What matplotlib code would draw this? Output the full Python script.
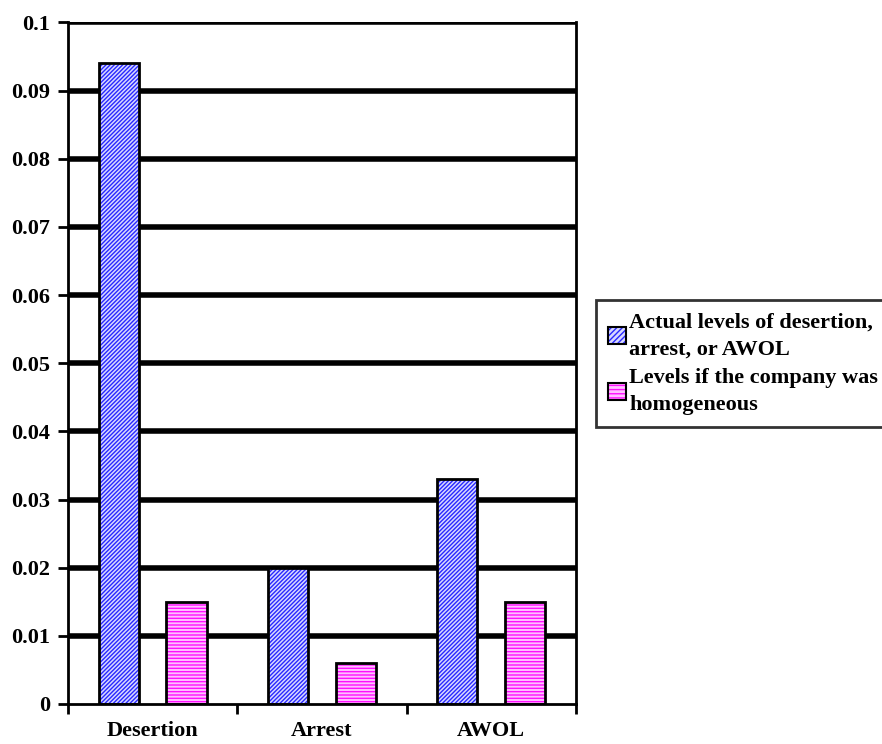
import numpy as np
import matplotlib
matplotlib.use("Agg")
import matplotlib.pyplot as plt
from matplotlib.patches import Patch
from matplotlib.legend_handler import HandlerTuple

categories = ["Desertion", "Arrest", "AWOL"]
actual = [0.094, 0.020, 0.033]
homogeneous = [0.015, 0.006, 0.015]
legend_labels = ["Actual levels of desertion,\narrest, or AWOL",
                 "Levels if the company was\nhomogeneous"]
yticks = [0, 0.01, 0.02, 0.03, 0.04, 0.05, 0.06, 0.07, 0.08, 0.09, 0.1]

plt.rcParams['font.family'] = ['Liberation Serif', 'DejaVu Serif']
plt.rcParams['font.weight'] = 'bold'
plt.rcParams['hatch.linewidth'] = 1.0

blue_face, blue_hatch = '#d8d8ff', '#2828ff'
pink_face, pink_hatch = '#ffc0ff', '#ff10ff'

fig = plt.figure(figsize=(8.82, 7.44), dpi=100)
ax = fig.add_axes([0.077, 0.0538, 0.576, 0.916])

x = np.arange(len(categories))
w = 0.237
off = 0.2

for yv in yticks[1:]:
    ax.axhline(yv, color='black', lw=4, zorder=1)

ax.bar(x - off, actual, w, facecolor=blue_face, edgecolor=blue_hatch, hatch='////////', lw=0, zorder=2)
ax.bar(x - off, actual, w, facecolor='none', edgecolor='black', lw=2, zorder=3)
ax.bar(x + off, homogeneous, w, facecolor=pink_face, edgecolor=pink_hatch, hatch='-----', lw=0, zorder=2)
ax.bar(x + off, homogeneous, w, facecolor='none', edgecolor='black', lw=2, zorder=3)

ax.set_xlim(-0.5, 2.5)
ax.set_ylim(0, 0.1)
ax.set_yticks(yticks)
ax.set_yticklabels(["0" if v == 0 else ("%g" % v) for v in yticks], fontsize=16, fontweight='bold')
ax.set_xticks(x)
ax.set_xticklabels(categories, fontsize=16, fontweight='bold')
ax.tick_params(axis='x', length=0, pad=12)
ax.set_xticks([-0.5, 0.5, 1.5, 2.5], minor=True)
ax.tick_params(axis='x', which='minor', length=7, width=2, direction='out')
ax.tick_params(axis='y', length=7, width=2, direction='out', pad=6)

ax.spines['top'].set_visible(False)
ax.spines['right'].set_linewidth(2)
ax.spines['left'].set_linewidth(2)
ax.spines['bottom'].set_linewidth(2)

h1 = (Patch(facecolor=blue_face, edgecolor=blue_hatch, hatch='//////', lw=0),
      Patch(facecolor='none', edgecolor='black', lw=1.5))
h2 = (Patch(facecolor=pink_face, edgecolor=pink_hatch, hatch='----', lw=0),
      Patch(facecolor='none', edgecolor='black', lw=1.5))
leg = fig.legend([h1, h2], legend_labels, handler_map={tuple: HandlerTuple(ndivide=1)},
                 loc='upper left', bbox_to_anchor=(596 / 882, 1 - 300 / 744),
                 prop={'size': 16, 'weight': 'bold'}, frameon=True, fancybox=False,
                 handlelength=0.8, handleheight=0.8, handletextpad=0.15,
                 borderpad=0.55, labelspacing=0.35, borderaxespad=0)
for t in leg.get_texts():
    t.set_linespacing(1.5)
leg.get_frame().set_edgecolor('black')
leg.get_frame().set_linewidth(2)

plt.savefig("out.png", dpi=100)
